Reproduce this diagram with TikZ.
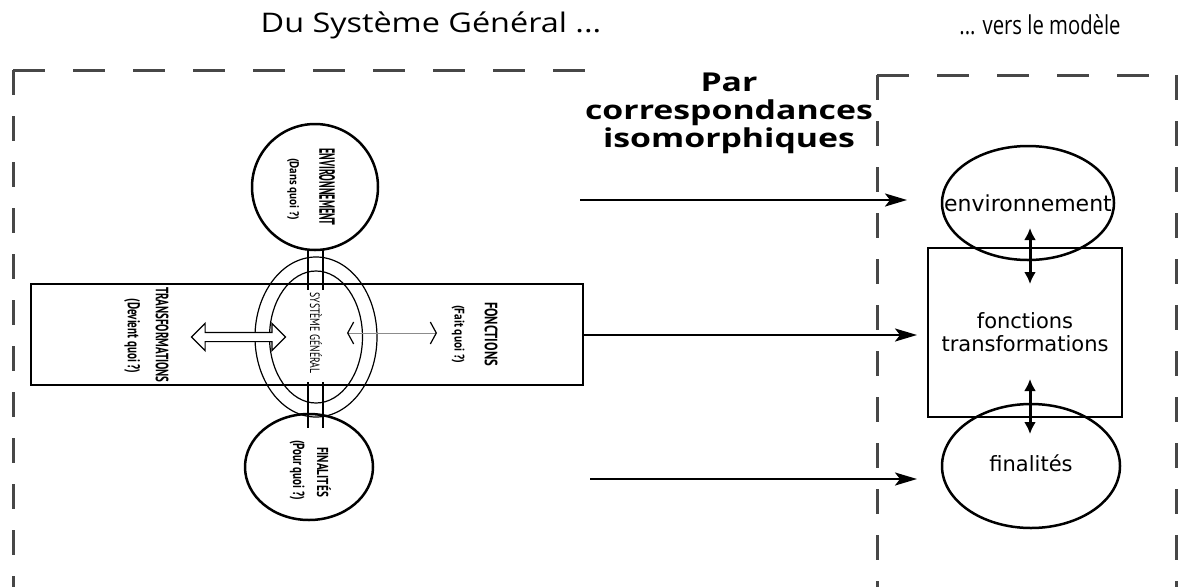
\documentclass[tikz,border=0pt]{standalone}
\usepackage{fontspec}
\setmainfont{Open Sans}
\newfontfamily\rfont{DejaVu Sans}
\newfontfamily\cfont{PT Sans}
\usetikzlibrary{arrows.meta,shapes.geometric,shapes.arrows}
\newcommand\sqz[3]{\resizebox*{#1}{#2}{#3}}
\begin{document}
\begin{tikzpicture}[x=1pt,y=-1pt,
  hdash/.style={draw=black!72, line width=3pt, dash pattern=on 32pt off 28pt},
  vdash/.style={draw=black!72, line width=3pt, dash pattern=on 25pt off 21pt},
  title/.style={font=\fontsize{27}{30}\selectfont, inner sep=0pt},
  vlab/.style={rotate=-90, inner sep=0pt, font=\cfont\bfseries\fontsize{16}{16}\selectfont},
  vlabthin/.style={rotate=-90, inner sep=0pt, font=\cfont\fontsize{16}{16}\selectfont},
  rlab/.style={font=\rfont\fontsize{21}{23}\selectfont, align=center, inner sep=0pt},
  bigcirc/.style={draw, line width=2.5pt, ellipse, inner sep=0pt},
  ring/.style={draw, line width=1.2pt, ellipse, inner sep=0pt},
  box/.style={draw, line width=2.6pt, rectangle, inner sep=0pt},
  maparrow/.style={line width=2.4pt, -{Stealth[length=22pt,width=13pt,inset=5pt]}},
  dblarrow/.style={line width=3pt, {Latex[length=12pt,width=12pt]}-{Latex[length=12pt,width=12pt]}},
  shaft/.style={line width=1.6pt}
]
\useasboundingbox (0,0) rectangle (1178,587);

% titles
\node[title] (t1) at (431,25) {\scalebox{1.2}[1]{Du Système Général ...}};
\node[title, font=\fontsize{26}{28}\selectfont] (t2) at (1040,25) {\scalebox{0.78}[1]{... vers le modèle}};
\node[font=\bfseries\fontsize{26}{28}\selectfont, align=center, inner sep=0pt] (par) at (729,113) {\scalebox{1.3}[1]{Par}\\\scalebox{1.3}[1]{correspondances}\\\scalebox{1.3}[1]{isomorphiques}};

% dashed frames
\coordinate (la) at (13,587);
\coordinate (lb) at (13,70);
\coordinate (lc) at (585,70);
\draw[hdash] (lb) -- (lc);
\draw[vdash] (lb) -- (la);
\coordinate (ma) at (877,587);
\coordinate (mb) at (877,75);
\coordinate (mc) at (1176,75);
\coordinate (md) at (1176,587);
\draw[vdash] (mb) -- (ma);
\draw[hdash] (mb) -- (mc);
\draw[vdash] (mc) -- (md);

% left diagram
\node[box, minimum width=552pt, minimum height=101pt] (rect) at (307,334.5) {};
\node[bigcirc, minimum width=126pt, minimum height=126pt] (env) at (315,187) {};
\node[bigcirc, minimum width=128pt, minimum height=106pt] (fin) at (309,467) {};
\node[ring, minimum width=122pt, minimum height=160pt] (outer) at (316,337) {};
\node[ring, minimum width=93pt, minimum height=132pt] (inner) at (316,337) {};

% double vertical links
\coordinate (ua1) at (308,249); \coordinate (ub1) at (308,290);
\coordinate (ua2) at (323,249); \coordinate (ub2) at (323,290);
\coordinate (da1) at (308,382); \coordinate (db1) at (308,428);
\coordinate (da2) at (323,382); \coordinate (db2) at (323,428);
\draw[shaft] (ua1) -- (ub1);
\draw[shaft] (ua2) -- (ub2);
\draw[shaft] (da1) -- (db1);
\draw[shaft] (da2) -- (db2);

% hollow double arrow (transformations)
\node[double arrow, draw, line width=1.2pt, fill=white, minimum height=94pt,
      inner xsep=0pt, inner ysep=4pt, double arrow head extend=9pt] (harr) at (238.5,337) {};
% thin arrow (fonctions)
\coordinate (fa1) at (347,333);
\coordinate (fa2) at (437,333);
\draw[black!45, line width=0.8pt, {Straight Barb[black, length=6pt, width=22pt, line width=1.2pt]}-{Straight Barb[black, length=6pt, width=22pt, line width=1.2pt]}] (fa1) -- (fa2);

% rotated labels
\node[vlab] (l1) at (327,187) {\sqz{77pt}{16pt}{ENVIRONNEMENT}};
\node[vlab] (l2) at (293,189) {\sqz{62pt}{12pt}{(Dans quoi ?)}};
\node[vlab] (l3) at (162,335) {\sqz{95pt}{13pt}{TRANSFORMATIONS}};
\node[vlab] (l4) at (132,336) {\sqz{75pt}{16pt}{(Devient quoi ?)}};
\node[vlab] (l5) at (491,334) {\sqz{64pt}{13pt}{FONCTIONS}};
\node[vlab] (l6) at (458,334) {\sqz{58pt}{13pt}{(Fait quoi ?)}};
\node[vlab] (l7) at (324,472) {\sqz{50pt}{14pt}{FINALITÉS}};
\node[vlab] (l8) at (297,470) {\sqz{60pt}{15pt}{(Pour quoi ?)}};
\node[vlabthin] (l9) at (316,333) {\sqz{81pt}{12pt}{SYSTÈME GÉNÉRAL}};

% right model
\node[box, line width=2.2pt, minimum width=194pt, minimum height=169pt, rlab] (ft) at (1025,332.5) {fonctions\\transformations};
\node[bigcirc, minimum width=172pt, minimum height=114pt] (menv) at (1028,203) {};
\node[rlab, font=\rfont\fontsize{22}{23}\selectfont] (menvl) at (1028,203) {environnement};
\node[bigcirc, minimum width=178pt, minimum height=124pt] (mfin) at (1031,466) {};
\node[rlab] (mfinl) at (1031,463) {finalités};

\coordinate (e1) at (1030,228); \coordinate (e2) at (1030,284);
\coordinate (f1) at (1030,379); \coordinate (f2) at (1030,434);
\draw[dblarrow] (e1) -- (e2);
\draw[dblarrow] (f1) -- (f2);

% mapping arrows
\coordinate (a1) at (580,200); \coordinate (b1) at (907,200);
\coordinate (a2) at (583,335); \coordinate (b2) at (917,335);
\coordinate (a3) at (590,479); \coordinate (b3) at (917,479);
\draw[maparrow] (a1) -- (b1);
\draw[maparrow] (a2) -- (b2);
\draw[maparrow] (a3) -- (b3);
\end{tikzpicture}
\end{document}
